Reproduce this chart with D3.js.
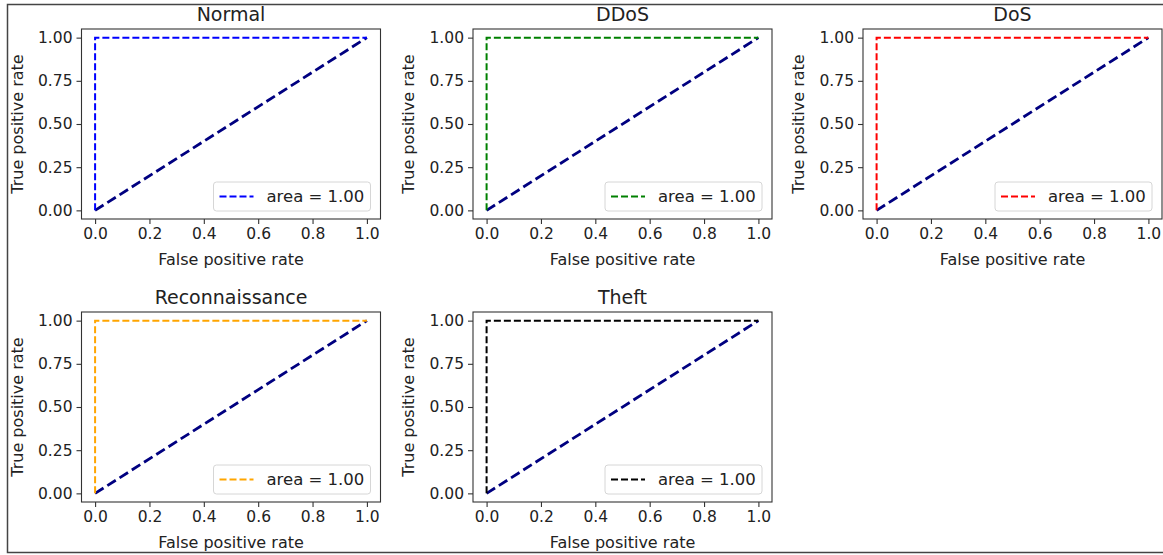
<!DOCTYPE html>
<html>
<head>
<meta charset="utf-8">
<script src="https://cdn.jsdelivr.net/npm/d3@7"></script>
<style>
  body { margin: 0; background: #fff; }
  svg text { font-family: "DejaVu Sans", sans-serif; fill: #222; }
</style>
</head>
<body>
<svg id="chart" width="1163" height="555"></svg>
<script>
// ROC data, one panel per class
const classNames = ["Normal", "DDoS", "DoS", "Reconnaissance", "Theft"];
const classColors = ["#0000ff", "#008000", "#ff0000", "#ffa500", "#000000"];
const fprValues = [[0, 0, 1], [0, 0, 1], [0, 0, 1], [0, 0, 1], [0, 0, 1]];
const tprValues = [[0, 1, 1], [0, 1, 1], [0, 1, 1], [0, 1, 1], [0, 1, 1]];
const aucValues = [1.00, 1.00, 1.00, 1.00, 1.00];
const chanceLine = [0, 1];
const xTicks = [0, 0.2, 0.4, 0.6, 0.8, 1.0];
const yTicks = [0, 0.25, 0.5, 0.75, 1.0];

// panel layout
const colLeft = [81.5, 473, 863];
const rowTop = [29, 312];
const panelW = 299;
const panelH = 190;

const svg = d3.select("#chart");

// clip everything to the screenshot frame
svg.append("defs").append("clipPath")
  .attr("id", "frameClip")
  .append("rect")
  .attr("x", 8).attr("y", 4)
  .attr("width", 1163).attr("height", 548);

const root = svg.append("g").attr("clip-path", "url(#frameClip)");

classNames.forEach((name, i) => {
  const col = i % 3;
  const row = Math.floor(i / 3);
  const g = root.append("g")
    .attr("transform", `translate(${colLeft[col]},${rowTop[row]})`);

  const x = d3.scaleLinear().domain([-0.05, 1.05]).range([0, panelW]);
  const y = d3.scaleLinear().domain([-0.05, 1.05]).range([panelH, 0]);

  // axes
  const xAxis = g.append("g")
    .attr("transform", `translate(0,${panelH})`)
    .call(d3.axisBottom(x).tickValues(xTicks).tickFormat(d3.format(".1f")).tickSizeOuter(0).tickSize(5).tickPadding(4));
  const yAxis = g.append("g")
    .call(d3.axisLeft(y).tickValues(yTicks).tickFormat(d3.format(".2f")).tickSizeOuter(0).tickSize(5).tickPadding(4));
  [xAxis, yAxis].forEach(a => {
    a.select(".domain").remove();
    a.selectAll(".tick line").attr("stroke", "#333").attr("stroke-width", 1.1);
    a.selectAll(".tick text").style("font-size", "15.5px").attr("fill", "#222");
  });

  const line = d3.line().x(d => x(d[0])).y(d => y(d[1]));

  // chance diagonal
  g.append("path")
    .datum(chanceLine.map(v => [v, v]))
    .attr("d", line)
    .attr("fill", "none")
    .attr("stroke", "#000080")
    .attr("stroke-width", 2.8)
    .attr("stroke-dasharray", "10,4.5");

  // roc curve
  g.append("path")
    .datum(fprValues[i].map((f, k) => [f, tprValues[i][k]]))
    .attr("d", line)
    .attr("fill", "none")
    .attr("stroke", classColors[i])
    .attr("stroke-width", 2)
    .attr("stroke-dasharray", "7,3");

  // spines
  g.append("rect")
    .attr("width", panelW).attr("height", panelH)
    .attr("fill", "none").attr("stroke", "#333").attr("stroke-width", 1.1);

  // title and labels
  g.append("text")
    .attr("x", panelW / 2).attr("y", -8)
    .attr("text-anchor", "middle")
    .style("font-size", "19px")
    .text(name);
  g.append("text")
    .attr("x", panelW / 2).attr("y", panelH + 46)
    .attr("text-anchor", "middle")
    .style("font-size", "16px")
    .text("False positive rate");
  g.append("text")
    .attr("transform", `translate(-59,${panelH / 2}) rotate(-90)`)
    .attr("text-anchor", "middle")
    .style("font-size", "16px")
    .text("True positive rate");

  // legend
  const lw = 157, lh = 29;
  const lg = g.append("g")
    .attr("transform", `translate(${panelW - 10 - lw},${panelH - 8 - lh})`);
  lg.append("rect")
    .attr("width", lw).attr("height", lh).attr("rx", 3)
    .attr("fill", "#fff").attr("fill-opacity", 0.8)
    .attr("stroke", "#d6d6d6").attr("stroke-width", 1);
  lg.append("line")
    .attr("x1", 6).attr("x2", 40)
    .attr("y1", lh / 2).attr("y2", lh / 2)
    .attr("stroke", classColors[i])
    .attr("stroke-width", 2)
    .attr("stroke-dasharray", "7,3");
  lg.append("text")
    .attr("x", 53).attr("y", lh / 2)
    .attr("dy", "0.35em")
    .style("font-size", "16.5px")
    .text(`area = ${aucValues[i].toFixed(2)}`);
});

// screenshot frame
svg.append("path")
  .attr("d", "M1163,4.5 H7.5 V552.5 H1163")
  .attr("fill", "none")
  .attr("stroke", "#444")
  .attr("stroke-width", 1.5);
</script>
</body>
</html>
